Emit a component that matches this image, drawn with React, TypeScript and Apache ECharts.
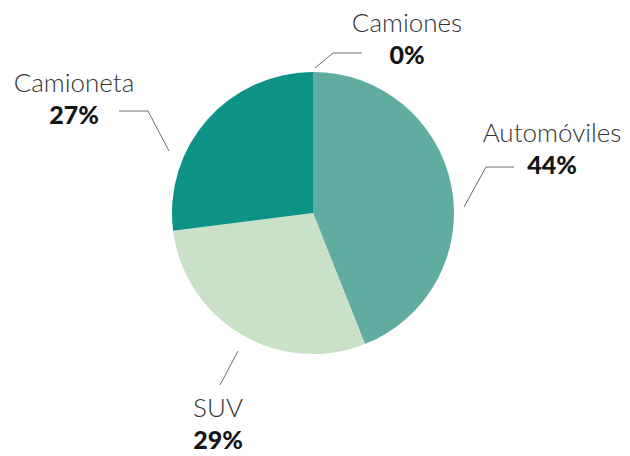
import React, { useEffect, useRef } from "react";
import * as echarts from "echarts";

const categories = ["Automóviles", "SUV", "Camioneta", "Camiones"];
const values = [44, 29, 27, 0];
const colors = ["#60aca1", "#c8e1c7", "#0d9385", "#0d9385"];

// label placement (layout only)
const labelPlacement = [
  { x: 552, y: 148, line: [[464, 207], [486, 167], [514, 167]] },
  { x: 218, y: 423, line: [[238, 351], [220, 385], [220, 385]] },
  { x: 74, y: 98, line: [[169, 151], [148, 111], [119, 111]] },
  { x: 407, y: 38, line: [[315, 68], [333, 53], [362, 53]] },
];

export default function App() {
  const ref = useRef<HTMLDivElement>(null);
  useEffect(() => {
    if (!ref.current) return;
    const chart = echarts.init(ref.current, null, { renderer: "svg" });
    chart.setOption({
      animation: false,
      backgroundColor: "#ffffff",
      series: [
        {
          type: "pie",
          center: [313, 213],
          radius: [0, 141],
          startAngle: 90,
          clockwise: true,
          silent: true,
          avoidLabelOverlap: false,
          data: categories.map((name, i) => ({
            name,
            value: values[i],
            itemStyle: { color: colors[i] },
          })),
          label: {
            show: true,
            position: "outside",
            formatter: (p: any) => `{n|${p.name}}\n{p|${p.value}%}`,
            rich: {
              n: {
                fontFamily: "Lato",
                fontWeight: 300,
                fontSize: 26,
                lineHeight: 32,
                color: "#333333",
                align: "center",
              },
              p: {
                fontFamily: "Lato",
                fontWeight: 900,
                fontSize: 25,
                lineHeight: 32,
                color: "#151515",
                align: "center",
              },
            },
          },
          labelLine: {
            show: true,
            lineStyle: { color: "#6e6e6e", width: 1 },
          },
          labelLayout: (params: any) => {
            const L = labelPlacement[params.dataIndex];
            return {
              x: L.x,
              y: L.y,
              align: "center",
              verticalAlign: "middle",
              labelLinePoints: L.line,
            };
          },
        },
      ],
    });
    return () => chart.dispose();
  }, []);
  return (
    <div
      ref={ref}
      style={{ position: "fixed", left: 0, top: 0, width: 630, height: 456 }}
    />
  );
}
